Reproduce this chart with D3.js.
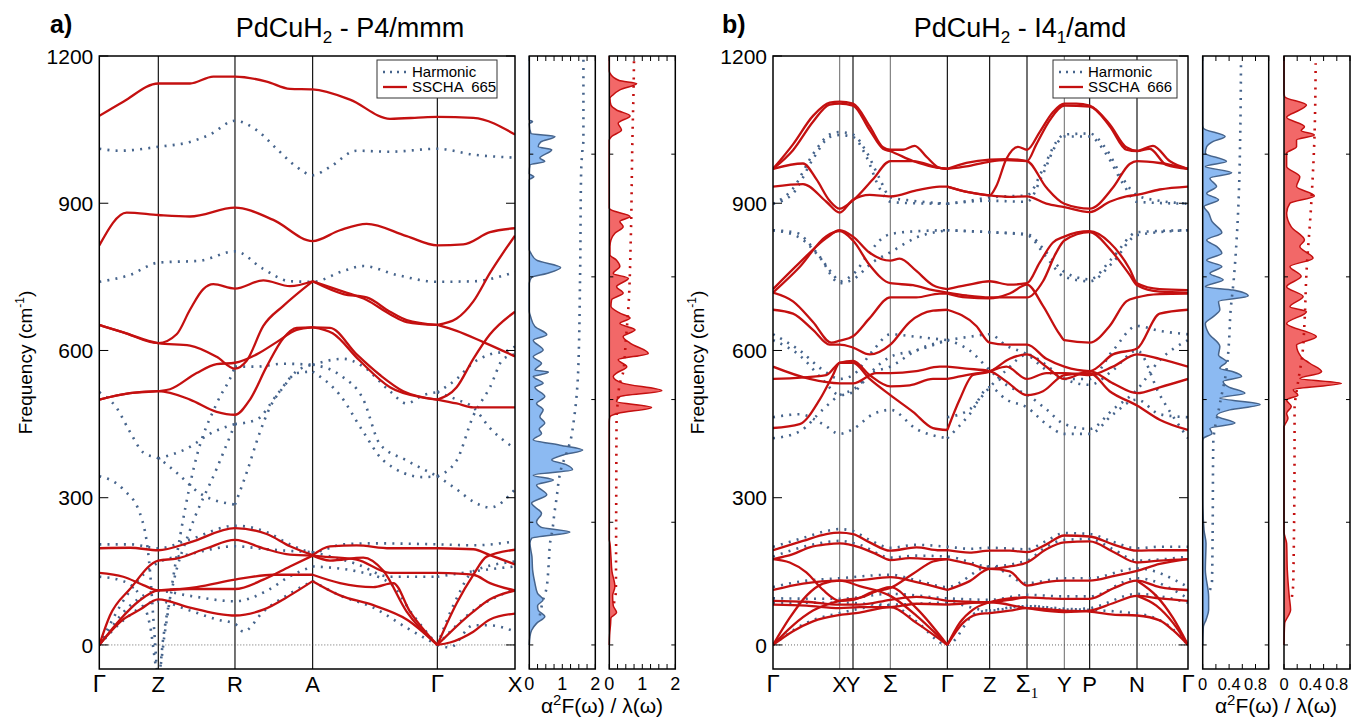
<!DOCTYPE html>
<html>
<head>
<meta charset="utf-8">
<script src="https://cdn.jsdelivr.net/npm/d3@7"></script>
<style>
  body { margin: 0; background: #fff; }
  svg { display: block; }
  text { font-family: "Liberation Sans", Arial, sans-serif; fill: #000; }
</style>
</head>
<body>
<svg id="fig" width="1370" height="719"></svg>
<script>
// ---------- path labels ----------
var pathA = ["Γ", "Z", "R", "A", "Γ", "X"];
var pathAK = [0, 1.77, 4.07, 6.40, 10.14, 12.47];
var pathB = ["Γ", "X", "Y", "Σ", "Γ", "Z", "Σ1", "Y", "P", "N", "Γ"];
var pathBK = [0, 2.0, 2.4, 3.52, 5.23, 6.5, 7.62, 8.74, 9.5, 10.92, 12.45];
var freqTicks = [0, 300, 600, 900, 1200];
var sideFreqTicks = [0, 250, 500, 750, 1000];

// ---------- panel a: SSCHA bands [k, cm-1] ----------
var sscA = [
  [[0,1078],[0.72,1107],[1.77,1144],[2.72,1144],[3.42,1158],[4.07,1158],[5.02,1148],[5.72,1133],[6.40,1132],[7.52,1111],[8.72,1072],[9.72,1075],[10.14,1076],[11.22,1074],[12.47,1040]],
  [[0,814],[0.82,881],[1.77,876],[2.72,873],[4.07,891],[5.22,866],[6.40,823],[7.22,845],[8.02,858],[9.22,833],[10.14,814],[10.92,816],[11.72,841],[12.47,849]],
  [[0,652],[0.72,637],[1.77,615],[2.72,610],[3.52,587],[4.07,563],[4.42,579],[4.92,650],[5.52,691],[6.40,741]],
  [[0,652],[0.72,637],[1.77,615],[2.32,633],[2.72,683],[3.12,725],[3.42,735],[4.07,726],[4.92,743],[5.72,731],[6.40,741]],
  [[0,500],[0.92,513],[1.77,517],[2.72,500],[3.52,475],[4.07,469],[4.52,500],[5.02,567],[5.52,625],[5.92,646],[6.40,647]],
  [[0,500],[0.92,513],[1.77,517],[2.12,521],[2.92,554],[3.52,572],[4.07,575],[4.72,592],[5.32,617],[5.92,642],[6.40,647]],
  [[6.40,741],[7.32,715],[8.02,708],[8.72,679],[9.22,662],[10.14,652]],
  [[6.40,741],[7.32,720],[8.02,703],[8.72,674],[9.22,658],[10.14,652]],
  [[6.40,647],[6.92,646],[7.72,592],[8.42,550],[9.12,517],[10.14,500]],
  [[6.40,647],[7.0,635],[7.8,580],[8.72,525],[9.72,504],[10.14,500]],
  [[10.14,652],[10.72,665],[11.22,700],[11.72,758],[12.47,834]],
  [[10.14,652],[10.72,640],[11.52,617],[12.47,588]],
  [[10.14,500],[10.72,492],[11.22,484],[12.47,484]],
  [[10.14,500],[10.72,525],[11.22,583],[11.72,633],[12.47,679]],
  [[0,197],[0.92,198],[1.77,193],[2.72,209],[4.07,238],[5.02,226],[5.72,201],[6.40,183]],
  [[0,0],[0.32,60],[0.92,114],[1.77,172],[2.32,176],[3.22,197],[4.07,214],[4.92,197],[5.72,184],[6.40,182]],
  [[0,147],[0.72,139],[1.32,122],[1.77,111],[2.92,118],[4.07,133],[5.22,143],[6.40,143]],
  [[0,0],[0.72,52],[1.22,72],[1.77,93],[2.72,76],[3.52,64],[4.07,60],[4.92,72],[5.72,101],[6.40,130]],
  [[0,0],[0.6,50],[1.2,90],[1.77,111],[2.72,114],[4.07,114],[4.92,133],[5.72,160],[6.40,182]],
  [[6.40,183],[6.92,201],[7.72,203],[8.72,197],[10.14,197]],
  [[6.40,182],[6.72,180],[7.72,174],[8.72,147],[9.72,147],[10.14,147]],
  [[6.40,182],[6.92,172],[7.92,178],[8.52,151],[9.22,68],[10.14,0]],
  [[6.40,143],[7.22,126],[8.22,118],[8.82,126],[9.32,68],[10.14,0]],
  [[6.40,130],[7.22,101],[8.22,81],[9.22,52],[10.14,0]],
  [[10.14,197],[11.22,195],[11.72,183],[12.47,164]],
  [[10.14,0],[10.72,85],[11.22,143],[11.62,180],[12.47,194]],
  [[10.14,147],[11.22,143],[11.72,126],[12.47,111]],
  [[10.14,0],[11.22,68],[11.72,93],[12.47,111]],
  [[10.14,0],[10.52,5],[11.22,27],[11.72,52],[12.47,64]]
];

// ---------- panel a: harmonic bands ----------
var harmA = [
  [[0,1011],[0.62,1007],[1.77,1015],[2.72,1025],[3.32,1040],[4.07,1068],[4.72,1049],[5.32,1011],[5.92,974],[6.40,957],[6.92,974],[7.72,1007],[8.72,1005],[10.14,1011],[11.22,999],[12.47,993]],
  [[0,740],[0.92,754],[1.77,779],[3.02,783],[4.07,802],[4.92,766],[5.72,741],[6.40,740],[7.32,762],[7.92,772],[8.92,754],[10.14,740],[11.22,741],[12.47,760]],
  [[0,515],[0.52,483],[0.92,434],[1.32,392],[1.77,380],[2.32,351],[3.02,309],[4.07,286]],
  [[0,344],[0.72,317],[1.22,268],[1.52,151],[1.65,27],[1.77,-70],[1.92,15],[2.22,126],[2.72,234],[3.52,359],[4.07,450]],
  [[0,139],[0.72,130],[1.22,100],[1.52,40],[1.77,-60],[1.97,27],[2.27,160],[2.92,384],[3.52,492],[4.02,558],[4.07,567]],
  [[1.77,380],[2.62,400],[3.42,434],[4.07,450]],
  [[4.07,450],[4.72,459],[5.32,509],[5.92,558],[6.40,571]],
  [[4.07,286],[4.42,351],[4.82,434],[5.12,484],[5.52,525],[5.92,554],[6.40,557]],
  [[4.07,567],[4.72,567],[5.52,573],[6.40,571]],
  [[6.40,571],[7.32,583],[7.92,567],[8.72,517],[9.22,492],[9.72,509],[10.14,515]],
  [[6.40,571],[7.22,550],[7.92,500],[8.42,409],[9.22,376],[10.14,344]],
  [[6.40,557],[7.22,509],[7.92,434],[8.52,376],[9.72,342],[10.14,344]],
  [[10.14,515],[10.72,500],[11.22,484],[11.72,442],[12.47,400]],
  [[10.14,515],[10.72,542],[11.22,575],[11.72,592],[12.27,600],[12.47,608]],
  [[10.14,344],[10.72,376],[11.22,467],[11.72,525],[12.12,583],[12.47,592]],
  [[10.14,344],[10.72,317],[11.22,292],[11.72,280],[12.47,317]],
  [[0,205],[0.92,205],[1.77,197],[2.72,215],[4.07,243],[5.02,230],[5.72,205],[6.40,189],[7.32,205],[8.22,207],[10.14,205],[11.22,203],[12.47,211]],
  [[0,0],[0.92,110],[1.77,168],[2.72,185],[4.07,201],[5.02,195],[6.40,189]],
  [[0,0],[0.72,50],[1.77,89],[2.72,70],[3.52,52],[4.07,43],[4.32,27],[4.92,68],[5.72,105],[6.40,130]],
  [[0,0],[0.92,80],[1.77,110],[2.72,100],[4.07,89],[5.02,110],[5.72,140],[6.40,160]],
  [[6.40,189],[7.72,165],[8.72,139],[10.14,139]],
  [[6.40,160],[7.72,150],[8.72,126],[9.42,60],[10.14,0]],
  [[6.40,130],[7.22,101],[8.22,76],[9.22,35],[10.14,0]],
  [[10.14,139],[11.22,150],[12.47,160]],
  [[10.14,0],[10.72,95],[11.22,150],[12.47,170]],
  [[10.14,0],[11.22,70],[12.47,114]],
  [[10.14,0],[10.52,-5],[11.22,40],[11.72,40],[12.47,27]]
];

// ---------- panel b: SSCHA bands ----------
var sscB = [
  [[0,970],[0.6,1020],[1.2,1078],[1.7,1105],[2.0,1107],[2.4,1103],[2.9,1057],[3.3,1014],[3.52,1009],[3.9,1009],[4.25,1017],[4.6,995],[5.0,972],[5.23,970]],
  [[0,970],[0.6,1008],[1.2,1066],[1.7,1101],[2.0,1103],[2.4,1099],[2.9,1049],[3.3,1011],[3.52,1006],[4.2,986],[4.8,974],[5.23,970]],
  [[0,970],[0.9,981],[1.3,949],[1.7,905],[2.0,889],[2.4,906],[3.0,949],[3.52,986],[4.2,986],[5.0,972],[5.23,970]],
  [[0,934],[0.9,939],[1.6,903],[2.0,881],[2.4,907],[2.9,917],[3.52,914],[4.3,926],[5.0,934],[5.23,934]],
  [[5.23,970],[5.8,982],[6.5,989],[7.0,990],[7.62,986],[8.2,932],[8.74,899],[9.5,889],[10.2,932],[10.7,980],[10.92,986],[11.6,982],[12.45,970]],
  [[5.23,970],[5.8,975],[6.5,985],[7.0,988],[7.62,986],[7.9,1020],[8.3,1069],[8.74,1099],[9.5,1097],[10.1,1057],[10.6,1009],[10.92,1006],[11.3,1011],[11.8,978],[12.45,970]],
  [[5.23,934],[5.9,922],[6.5,916],[6.7,935],[7.0,990],[7.35,1015],[7.62,1009],[8.0,1045],[8.4,1086],[8.74,1103],[9.1,1103],[9.5,1099],[10.1,1061],[10.6,1014],[10.92,1007],[11.4,1017],[11.9,986],[12.45,970]],
  [[5.23,934],[5.9,922],[6.5,916],[7.1,913],[7.62,914],[8.2,899],[8.74,892],[9.5,882],[10.1,903],[10.6,914],[10.92,917],[11.6,928],[12.45,934]],
  [[0,725],[0.8,779],[1.6,829],[2.0,845],[2.4,832],[2.9,799],[3.52,783],[3.8,787],[4.3,762],[4.8,733],[5.23,725]],
  [[0,718],[0.8,770],[1.6,833],[2.0,843],[2.4,824],[2.9,774],[3.52,737],[4.2,733],[4.8,723],[5.23,718]],
  [[0,718],[0.6,700],[1.2,658],[1.75,616],[2.0,620],[2.4,629],[2.9,666],[3.52,708],[4.3,708],[5.0,716],[5.23,716]],
  [[0,683],[0.6,675],[1.2,642],[1.7,612],[2.0,612],[2.4,606],[2.9,592],[3.52,612],[4.1,658],[4.8,681],[5.23,683]],
  [[0,567],[1.1,542],[2.0,533],[2.4,533],[3.1,554],[3.52,554],[4.3,558],[5.0,567],[5.23,567]],
  [[0,542],[1.6,550],[2.0,575],[2.4,579],[2.9,550],[3.52,527],[4.1,529],[4.8,542],[5.23,542]],
  [[0,442],[0.8,450],[1.4,500],[1.8,550],[2.0,575],[2.4,575],[2.9,542],[3.52,509],[4.2,475],[4.8,442],[5.23,438]],
  [[5.23,725],[5.8,733],[6.5,741],[7.1,734],[7.62,737],[8.0,779],[8.4,820],[8.74,832],[9.5,843],[10.1,820],[10.7,766],[10.92,737],[11.6,725],[12.45,723]],
  [[5.23,718],[5.8,712],[6.5,708],[7.1,708],[7.62,708],[8.1,741],[8.5,800],[8.74,824],[9.5,841],[10.1,807],[10.7,754],[10.92,733],[11.6,720],[12.45,718]],
  [[5.23,716],[5.8,708],[6.5,706],[7.1,716],[7.62,734],[8.1,691],[8.6,633],[8.74,621],[9.5,616],[10.1,650],[10.6,700],[10.92,708],[11.6,715],[12.45,716]],
  [[5.23,683],[6.1,650],[6.5,616],[7.0,612],[7.62,612],[8.2,583],[8.74,567],[9.5,558],[10.2,592],[10.92,604],[11.6,675],[12.45,683]],
  [[5.23,567],[5.8,563],[6.5,558],[7.0,537],[7.62,509],[8.1,517],[8.74,550],[9.5,554],[10.1,517],[10.92,488],[11.6,459],[12.45,438]],
  [[5.23,542],[5.8,550],[6.5,558],[7.0,567],[7.62,542],[8.2,554],[8.74,554],[9.5,550],[10.2,567],[10.92,592],[11.6,583],[12.45,567]],
  [[5.23,438],[5.6,500],[6.0,550],[6.5,557],[7.1,583],[7.62,592],[8.2,567],[8.74,542],[9.5,558],[10.2,533],[10.92,513],[11.6,525],[12.45,542]],
  [[0,193],[0.9,212],[1.6,226],[2.0,229],[2.4,226],[2.9,209],[3.52,192],[4.3,199],[5.0,193],[5.23,193]],
  [[0,175],[0.6,185],[1.1,199],[1.6,205],[2.0,207],[2.6,199],[3.1,185],[3.52,173],[4.1,177],[4.8,175],[5.23,175]],
  [[0,175],[0.5,168],[1.0,148],[1.5,112],[2.0,90],[2.4,92],[3.0,108],[3.52,116],[4.2,145],[4.8,170],[5.23,175]],
  [[0,112],[0.9,125],[2.0,131],[2.4,131],[3.52,138],[4.3,128],[5.23,112]],
  [[0,90],[1.0,88],[2.0,82],[2.6,82],[3.52,92],[4.3,98],[5.23,90]],
  [[0,82],[1.0,80],[2.0,75],[2.6,77],[3.52,77],[4.3,84],[5.23,82]],
  [[0,0],[0.5,55],[1.0,100],[1.5,125],[2.0,131],[2.6,120],[3.52,100],[4.3,60],[5.23,0]],
  [[0,0],[0.6,40],[1.2,70],[2.0,90],[2.6,96],[3.52,118],[4.3,75],[5.23,0]],
  [[0,0],[0.6,28],[1.2,48],[2.0,61],[2.6,66],[3.52,77],[4.3,45],[5.23,0]],
  [[5.23,193],[5.9,188],[6.5,192],[7.1,192],[7.62,189],[8.2,205],[8.74,223],[9.5,221],[10.2,205],[10.92,192],[11.6,193],[12.45,193]],
  [[5.23,175],[5.9,165],[6.5,155],[7.1,160],[7.62,168],[8.2,195],[8.74,209],[9.5,211],[10.2,190],[10.92,168],[11.6,172],[12.45,175]],
  [[5.23,112],[5.9,130],[6.5,155],[7.1,150],[7.62,121],[8.2,128],[8.74,131],[9.5,131],[10.2,140],[10.92,151],[11.6,165],[12.45,175]],
  [[5.23,90],[5.9,88],[6.5,87],[7.1,92],[7.62,97],[8.2,95],[8.74,94],[9.5,94],[10.2,115],[10.92,131],[11.6,118],[12.45,112]],
  [[5.23,82],[6.5,87],[7.62,75],[8.74,67],[9.5,70],[10.2,85],[10.92,100],[11.6,95],[12.45,90]],
  [[5.23,0],[5.7,45],[6.1,62],[6.5,65],[7.1,70],[7.62,75],[8.74,70],[9.5,68],[10.2,62],[10.92,60],[11.6,50],[12.0,30],[12.45,0]],
  [[5.23,0],[5.6,45],[6.0,72],[6.5,87],[7.1,95],[7.62,97]],
  [[10.92,100],[11.5,80],[12.0,45],[12.45,0]],
  [[10.92,131],[11.5,100],[12.0,55],[12.45,0]]
];

// ---------- panel b: harmonic bands ----------
var harmB = [
  [[0,899],[0.6,930],[1.2,1000],[1.7,1040],[2.0,1045],[2.4,1040],[2.8,1005],[3.2,950],[3.52,912],[4.2,905],[4.8,901],[5.23,899]],
  [[0,899],[0.6,920],[1.2,990],[1.7,1035],[2.0,1039],[2.4,1035],[2.8,995],[3.2,930],[3.52,903],[4.2,900],[5.23,899]],
  [[0,845],[0.7,840],[1.3,800],[1.8,755],[2.0,741],[2.4,755],[2.9,800],[3.3,830],[3.52,837],[4.3,843],[5.23,845]],
  [[0,845],[0.8,830],[1.4,790],[2.0,737],[2.4,745],[3.0,780],[3.52,800],[4.3,830],[5.23,845]],
  [[5.23,899],[5.9,905],[6.5,912],[7.0,914],[7.62,916],[8.1,970],[8.5,1025],[8.74,1040],[9.5,1042],[10.0,1010],[10.5,950],[10.92,916],[11.6,905],[12.45,899]],
  [[5.23,899],[6.5,905],[7.62,903],[8.1,960],[8.5,1020],[8.74,1036],[9.5,1036],[10.0,1000],[10.5,940],[10.92,903],[12.45,899]],
  [[5.23,845],[6.5,841],[7.62,837],[8.2,800],[8.74,760],[9.5,745],[10.2,790],[10.92,841],[12.45,845]],
  [[5.23,845],[6.5,841],[7.62,835],[8.2,790],[8.74,750],[9.5,741],[10.2,780],[10.92,835],[12.45,845]],
  [[0,633],[0.8,600],[1.5,560],[2.0,542],[2.4,550],[3.0,600],[3.52,633],[4.3,628],[5.23,621]],
  [[0,621],[0.8,590],[1.5,540],[2.0,509],[2.4,515],[3.0,560],[3.52,587],[4.3,600],[5.23,621]],
  [[0,464],[0.8,470],[1.5,450],[2.0,430],[2.4,440],[3.0,470],[3.52,479],[4.3,440],[5.23,421]],
  [[0,421],[0.8,435],[1.5,480],[2.0,509],[2.4,520],[3.0,555],[3.52,567],[4.3,600],[5.23,621]],
  [[5.23,621],[5.9,628],[6.5,633],[7.0,610],[7.62,592],[8.2,560],[8.74,542],[9.5,542],[10.2,600],[10.92,650],[11.6,640],[12.45,633]],
  [[5.23,421],[5.9,470],[6.5,525],[7.0,500],[7.62,484],[8.2,450],[8.74,430],[9.5,430],[10.2,470],[10.92,500],[11.6,470],[12.45,464]],
  [[5.23,621],[5.9,600],[6.5,560],[7.0,530],[7.62,510],[8.2,480],[8.74,450],[9.5,440],[10.2,480],[10.92,520],[11.6,580],[12.45,621]],
  [[5.23,464],[5.9,480],[6.5,525],[7.0,560],[7.62,592],[8.2,570],[8.74,542],[9.5,530],[10.2,560],[10.92,600],[11.6,510],[12.45,421]],
  [[0,200],[0.9,218],[1.6,232],[2.0,236],[2.4,232],[2.9,214],[3.52,198],[4.3,204],[5.23,200],[5.9,196],[6.5,198],[7.62,195],[8.2,212],[8.74,228],[9.5,226],[10.2,210],[10.92,197],[11.6,200],[12.45,200]],
  [[0,180],[1.1,203],[2.0,212],[2.6,204],[3.52,178],[4.3,182],[5.23,180],[6.5,160],[7.62,172],[8.2,200],[8.74,214],[9.5,216],[10.2,195],[10.92,172],[12.45,180]],
  [[0,118],[0.9,130],[2.0,136],[3.52,143],[4.3,132],[5.23,118],[6.5,160],[7.62,126],[8.74,136],[9.5,136],[10.92,156],[12.45,118]],
  [[0,95],[2.0,94],[3.52,104],[5.23,95],[6.5,92],[7.62,102],[8.74,99],[9.5,99],[10.92,136],[12.45,95]],
  [[0,86],[2.0,86],[3.52,82],[5.23,86],[6.5,70],[7.62,80],[8.74,72],[9.5,75],[10.92,104],[12.45,86]],
  [[0,0],[1.0,45],[2.0,65],[3.52,81],[4.3,48],[5.23,0],[6.1,66],[6.5,70],[7.62,79],[8.74,74],[10.92,64],[12.0,32],[12.45,0]]
];

// ---------- side panels: [cm-1, value] ----------
var a2fHarmA = [[0,0],[17,0.02],[30,0.07],[44,0.22],[58,0.47],[71,0.27],[80,0.25],[92,0.42],[105,0.25],[126,0.17],[153,0.1],[180,0.08],[207,0.02],[217,0.07],[230,1.23],[240,0.35],[251,0.22],[268,0.37],[289,0.07],[306,0.53],[326,0.22],[336,0.73],[346,0.12],[357,1.31],[367,1.13],[377,0.68],[387,1.03],[397,1.62],[407,0.93],[418,0.12],[431,0.37],[440,0.3],[452,0.47],[465,0.32],[479,0.42],[492,0.22],[506,0.47],[525,0.17],[533,0.42],[547,0.12],[550,0.3],[556,0.58],[560,0.17],[574,0.37],[587,0.12],[601,0.42],[621,0.12],[632,0.53],[649,0.17],[669,0.04],[680,0],[737,0],[749,0.07],[757,0.53],[769,0.95],[784,0.22],[798,0.05],[805,0],[948,0],[954,0.14],[960,0],[978,0.02],[985,0.47],[992,0.32],[1009,0.68],[1015,0.27],[1025,0.35],[1036,0.78],[1042,0.05],[1062,0],[1066,0.1],[1070,0],[1200,0]];
var a2fSscA = [[0,0],[20,0.01],[44,0.04],[55,0.05],[66,0.22],[80,0.12],[100,0.1],[119,0.17],[150,0.08],[180,0.05],[207,0.02],[215,0],[455,0],[465,0.02],[472,0.27],[484,1.28],[496,0.22],[506,0.32],[518,1.59],[533,0.42],[547,0.12],[554,0.22],[567,0.53],[581,0.27],[594,1.18],[615,0.63],[628,0.42],[642,0.78],[655,0.32],[666,0.63],[676,0.32],[690,0.05],[703,0.07],[717,0.42],[730,0.22],[747,0.58],[757,0.12],[771,0.32],[784,0.22],[795,0.02],[812,0.02],[825,0.05],[839,0.17],[852,0.42],[863,0.32],[873,0.63],[886,0.07],[890,0],[1029,0],[1036,0.07],[1049,0.37],[1063,0.27],[1078,0.63],[1090,0.22],[1100,0.05],[1114,0.02],[1120,0.1],[1131,0.32],[1144,0.83],[1150,0.3],[1165,0.02],[1170,0],[1200,0]];
var lamHarmA = [[60,0.32],[71,0.35],[92,0.42],[112,0.51],[167,0.59],[208,0.63],[234,0.70],[268,0.76],[301,0.83],[342,0.91],[363,0.98],[391,1.13],[417,1.25],[458,1.35],[513,1.44],[556,1.48],[757,1.54],[961,1.57],[1008,1.61],[1029,1.64],[1200,1.64]];
var lamSscA = [[85,0.14],[110,0.2],[300,0.21],[458,0.22],[490,0.25],[533,0.32],[556,0.42],[620,0.5],[689,0.58],[825,0.65],[1029,0.70],[1150,0.74],[1200,0.75]];

var a2fHarmB = [[0,0],[37,0.01],[51,0.05],[71,0.09],[98,0.09],[153,0.04],[207,0.05],[234,0.02],[300,0],[415,0],[421,0.01],[431,0.14],[441,0.11],[452,0.49],[467,0.21],[479,0.41],[490,0.87],[503,0.26],[513,0.64],[526,0.39],[537,0.31],[547,0.59],[557,0.45],[564,0.26],[577,0.36],[591,0.24],[608,0.26],[635,0.09],[655,0.04],[669,0.16],[683,0.26],[700,0.24],[711,0.69],[723,0.46],[730,0.04],[744,0.31],[757,0.11],[771,0.29],[784,0.06],[798,0.29],[812,0.21],[825,0.06],[840,0.29],[863,0.14],[880,0.09],[893,0.02],[907,0.24],[920,0.06],[934,0.21],[951,0.11],[962,0.44],[975,0.04],[985,0.36],[1002,0.04],[1015,0.06],[1026,0.16],[1036,0.34],[1053,0.01],[1060,0],[1200,0]];
var a2fSscB = [[0,0],[44,0.01],[58,0.06],[71,0.1],[98,0.08],[153,0.05],[207,0.04],[230,0],[445,0],[448,0.01],[462,0.06],[472,0.04],[486,0.11],[499,0.04],[509,0.21],[520,0.14],[533,0.87],[543,0.24],[554,0.54],[557,0.57],[574,0.39],[587,0.26],[611,0.19],[628,0.49],[655,0.04],[679,0.34],[689,0.09],[710,0.29],[730,0.04],[751,0.26],[771,0.09],[788,0.44],[812,0.24],[825,0.31],[852,0.11],[880,0.04],[900,0.09],[915,0.46],[934,0.19],[954,0.24],[975,0.04],[1002,0.04],[1015,0.19],[1029,0.19],[1039,0.46],[1048,0.26],[1056,0.31],[1075,0.04],[1090,0.24],[1100,0.34],[1117,0.01],[1125,0],[1200,0]];
var lamHarmB = [[112,0.11],[126,0.14],[221,0.15],[411,0.16],[491,0.26],[560,0.36],[621,0.40],[676,0.42],[744,0.47],[893,0.54],[1050,0.57],[1185,0.58]];
var lamSscB = [[98,0.12],[126,0.14],[424,0.16],[479,0.16],[533,0.21],[594,0.28],[655,0.31],[757,0.34],[893,0.41],[1029,0.46],[1185,0.48]];

// ---------- drawing ----------
var svg = d3.select("#fig");
var RED = "#c41010", BLUE = "#46648c";
var plotTop = 56, plotBottom = 669;
var y = d3.scaleLinear().domain([-49, 1200]).range([plotBottom, plotTop]);
var serif = "'Liberation Serif','DejaVu Serif',serif";

function dotted(sel, color) {
  return sel.attr("fill", "none").attr("stroke", color)
    .attr("stroke-width", 2.6).attr("stroke-dasharray", "2,6.2");
}

function drawMain(p) {
  var x = d3.scaleLinear().domain([0, p.kmax]).range([p.x0, p.x1]);
  var g = svg.append("g");
  var clipId = "clip" + p.id;
  svg.append("clipPath").attr("id", clipId).append("rect")
    .attr("x", p.x0).attr("y", plotTop).attr("width", p.x1 - p.x0).attr("height", plotBottom - plotTop);

  // high-symmetry lines
  p.ks.slice(1, -1).forEach(function(k, i) {
    g.append("line").attr("x1", x(k)).attr("x2", x(k)).attr("y1", plotTop).attr("y2", plotBottom)
      .attr("stroke", p.lineCol ? p.lineCol[i] : "#000").attr("stroke-width", 1.1);
  });
  g.append("line").attr("x1", p.x0).attr("x2", p.x1).attr("y1", y(0)).attr("y2", y(0))
    .attr("stroke", "#444").attr("stroke-width", 0.8).attr("stroke-dasharray", "1,2");

  var line = d3.line().x(function(d) { return x(d[0]); }).y(function(d) { return y(d[1]); })
    .curve(d3.curveMonotoneX);
  var cg = g.append("g").attr("clip-path", "url(#" + clipId + ")");
  cg.selectAll("path.h").data(p.harm).enter().append("path").attr("class", "h")
    .attr("d", line).call(dotted, BLUE);
  cg.selectAll("path.s").data(p.ssc).enter().append("path").attr("class", "s")
    .attr("d", line).attr("fill", "none").attr("stroke", RED).attr("stroke-width", 2.3);

  // frame and ticks
  g.append("rect").attr("x", p.x0).attr("y", plotTop).attr("width", p.x1 - p.x0)
    .attr("height", plotBottom - plotTop).attr("fill", "none").attr("stroke", "#000").attr("stroke-width", 1.5);
  freqTicks.forEach(function(f) {
    g.append("line").attr("x1", p.x0).attr("x2", p.x0 + 9).attr("y1", y(f)).attr("y2", y(f)).attr("stroke", "#000");
    g.append("line").attr("x1", p.x1 - 9).attr("x2", p.x1).attr("y1", y(f)).attr("y2", y(f)).attr("stroke", "#000");
    g.append("text").attr("x", p.x0 - 6).attr("y", y(f)).attr("dy", "0.36em")
      .attr("text-anchor", "end").attr("font-size", 21).text(f);
  });

  // k labels
  p.labels.forEach(function(lab, i) {
    var t = g.append("text").attr("x", x(p.ks[i])).attr("y", 692).attr("text-anchor", "middle");
    if (lab[0] === "Γ" || lab[0] === "Σ") {
      t.attr("font-family", serif).attr("font-size", 24).text(lab[0]);
      if (lab.length > 1) t.append("tspan").attr("font-family", serif).attr("font-size", 15).attr("dy", 6).text(lab.slice(1));
    } else {
      t.attr("font-size", 22).text(lab);
    }
  });

  // y label
  var yl = g.append("text").attr("transform", "translate(" + p.ylabX + "," + ((plotTop + plotBottom) / 2) + ") rotate(-90)")
    .attr("text-anchor", "middle").attr("font-size", 19).text("Frequency (cm");
  yl.append("tspan").attr("font-size", 12).attr("dy", -8).text("-1");
  yl.append("tspan").attr("dy", 8).text(")");

  // title
  var tt = svg.append("text").attr("x", p.titleX).attr("y", 37).attr("text-anchor", "middle").attr("font-size", 27).text("PdCuH");
  tt.append("tspan").attr("font-size", 17).attr("dy", 6).text("2");
  tt.append("tspan").attr("dy", -6).text(p.titleRest[0]);
  if (p.titleRest.length > 1) {
    tt.append("tspan").attr("font-size", 17).attr("dy", 6).text(p.titleRest[1]);
    tt.append("tspan").attr("dy", -6).text(p.titleRest[2]);
  }
  svg.append("text").attr("x", p.tagX).attr("y", 33).attr("font-size", 25).attr("font-weight", "bold").text(p.tag);

  // legend
  var lg = g.append("g").attr("transform", "translate(" + p.legX + ",60)");
  lg.append("rect").attr("width", p.legW).attr("height", 38).attr("fill", "#fff").attr("stroke", "#333");
  lg.append("line").attr("x1", 6).attr("x2", 30).attr("y1", 12).attr("y2", 12).call(dotted, BLUE).attr("stroke-dasharray", "2,5");
  lg.append("line").attr("x1", 6).attr("x2", 30).attr("y1", 27).attr("y2", 27).attr("stroke", RED).attr("stroke-width", 2.3);
  lg.append("text").attr("x", 35).attr("y", 12).attr("dy", "0.35em").attr("font-size", 15).text("Harmonic");
  lg.append("text").attr("x", 35).attr("y", 27).attr("dy", "0.35em").attr("font-size", 15).attr("xml:space", "preserve").text(p.legText);
}

function drawSide(s) {
  var x = d3.scaleLinear().domain([0, s.vmax]).range([s.x0, s.x0 + 66]);
  var g = svg.append("g");
  var area = d3.area().curve(d3.curveMonotoneY)
    .y(function(d) { return y(d[0]); }).x0(x(0)).x1(function(d) { return x(d[1]); });
  var ln = d3.line().curve(d3.curveMonotoneY)
    .y(function(d) { return y(d[0]); }).x(function(d) { return x(d[1]); });
  g.append("path").datum(s.a2f).attr("d", area).attr("fill", s.fill).attr("stroke", "none");
  g.append("path").datum(s.a2f).attr("d", ln).attr("fill", "none").attr("stroke", s.edge).attr("stroke-width", 1.5);
  g.append("path").datum(s.lam).attr("d", ln).call(dotted, s.edge);
  g.append("rect").attr("x", s.x0).attr("y", plotTop).attr("width", 66).attr("height", plotBottom - plotTop)
    .attr("fill", "none").attr("stroke", "#000").attr("stroke-width", 1.5);
  s.minor.forEach(function(v) {
    g.append("line").attr("x1", x(v)).attr("x2", x(v)).attr("y1", plotBottom).attr("y2", plotBottom - 5).attr("stroke", "#000");
    g.append("line").attr("x1", x(v)).attr("x2", x(v)).attr("y1", plotTop).attr("y2", plotTop + 5).attr("stroke", "#000");
  });
  sideFreqTicks.forEach(function(f) {
    g.append("line").attr("x1", s.x0).attr("x2", s.x0 + 4).attr("y1", y(f)).attr("y2", y(f)).attr("stroke", "#000");
    g.append("line").attr("x1", s.x0 + 62).attr("x2", s.x0 + 66).attr("y1", y(f)).attr("y2", y(f)).attr("stroke", "#000");
  });
  s.major.forEach(function(v) {
    g.append("text").attr("x", x(v)).attr("y", 690).attr("text-anchor", "middle").attr("font-size", s.fs).text(v);
  });
}

function sideLabel(cx) {
  var t = svg.append("text").attr("x", cx).attr("y", 713).attr("text-anchor", "middle").attr("font-size", 21).text("α");
  t.append("tspan").attr("font-size", 15).attr("dy", -8).text("2");
  t.append("tspan").attr("dy", 8).text("F(ω) / λ(ω)");
}

drawMain({ id: "a", x0: 99.3, x1: 515, kmax: 12.47, ks: pathAK, labels: pathA, harm: harmA, ssc: sscA,
  ylabX: 32, titleX: 350, titleRest: [" - P4/mmm"], tag: "a)", tagX: 50, legX: 377, legW: 120, legText: "SSCHA  665" });
drawMain({ id: "b", x0: 773, x1: 1188, kmax: 12.45, ks: pathBK, labels: pathB, harm: harmB, ssc: sscB,
  lineCol: ["#777", "#000", "#777", "#000", "#000", "#000", "#777", "#000", "#000"],
  ylabX: 704, titleX: 1020, titleRest: [" - I4", "1", "/amd"], tag: "b)", tagX: 722, legX: 1053, legW: 124, legText: "SSCHA  666" });

var sideTicksA = d3.range(0, 2.01, 0.25), sideTicksB = d3.range(0, 1.01, 0.2);
drawSide({ x0: 529.3, vmax: 2, a2f: a2fHarmA, lam: lamHarmA, fill: "#8cbaf2", edge: BLUE, minor: sideTicksA, major: [0, 1, 2], fs: 18 });
drawSide({ x0: 609.3, vmax: 2, a2f: a2fSscA, lam: lamSscA, fill: "#f26868", edge: RED, minor: sideTicksA, major: [0, 1, 2], fs: 18 });
drawSide({ x0: 1202.7, vmax: 1, a2f: a2fHarmB, lam: lamHarmB, fill: "#8cbaf2", edge: BLUE, minor: sideTicksB, major: [0, 0.4, 0.8], fs: 16.5 });
drawSide({ x0: 1284, vmax: 1, a2f: a2fSscB, lam: lamSscB, fill: "#f26868", edge: RED, minor: sideTicksB, major: [0, 0.4, 0.8], fs: 16.5 });
sideLabel(602);
sideLabel(1276);
</script>
</body>
</html>
